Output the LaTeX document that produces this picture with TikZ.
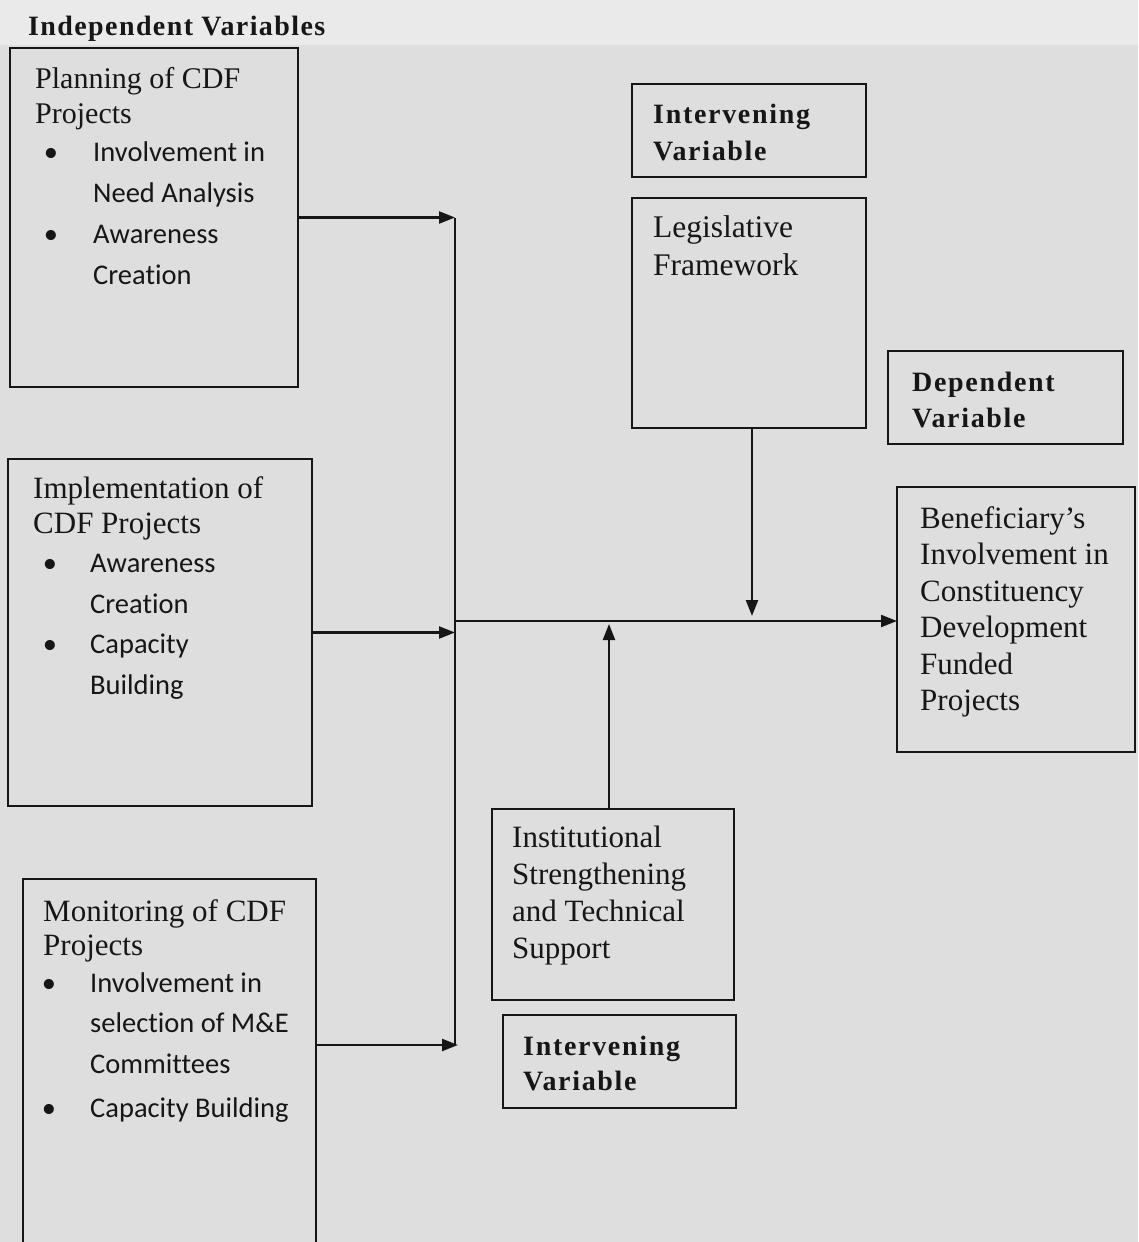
\documentclass[tikz,border=0pt]{standalone}
\usepackage{fontspec}
\setmainfont{Liberation Serif}
\newfontfamily\calib{Carlito}[Ligatures=NoCommon]
\newfontfamily\bsp{Liberation Serif}[LetterSpace=6]
\newfontfamily\tsp{Liberation Serif}[LetterSpace=5]
\usetikzlibrary{arrows.meta}
\definecolor{paper}{RGB}{222,222,222}
\definecolor{paperlight}{RGB}{234,234,234}
\definecolor{ink}{RGB}{22,22,22}
\newcommand{\mylines}[1]{\begin{tabular}[t]{@{}l@{}}#1\end{tabular}}
\begin{document}
\begin{tikzpicture}[x=1pt,y=-1pt,
  box/.style={draw=ink, line width=2.3pt, rectangle, inner sep=0pt, outer sep=0pt, anchor=north west},
  serif/.style={anchor=base west, inner sep=0pt, text=ink},
  sans/.style={anchor=base west, inner sep=0pt, text=ink, font=\calib\fontsize{28.5}{41}\selectfont},
  dot/.style={anchor=base, inner sep=0pt, text=ink, font=\calib\fontsize{28.5}{41}\selectfont},
  boldlab/.style={anchor=base west, inner sep=0pt, text=ink},
  conn/.style={draw=ink, line width=2.3pt},
  arr/.style={draw=ink, line width=2.3pt, -{Triangle[length=16pt,width=12pt]}}
]
\useasboundingbox (0,0) rectangle (1138,1242);
\clip (0,0) rectangle (1138,1242);
\fill[paper] (0,0) rectangle (1138,1242);
\fill[paperlight] (0,0) rectangle (1138,45);

% title
\node[boldlab, font=\tsp\bfseries\fontsize{28}{34}\selectfont] (title) at (28,35) {Independent Variables};

% Planning box
\node[box, minimum width=288pt, minimum height=339pt] (plan) at (10,48) {};
\node[serif, font=\fontsize{30}{35}\selectfont] (planh) at (35,88) {\mylines{Planning of CDF\\Projects}};
\node[dot] (planb1) at (51,161) {•};
\node[sans] (planb1t) at (93,161) {\mylines{Involvement in\\Need Analysis}};
\node[dot] (planb2) at (51,243) {•};
\node[sans] (planb2t) at (93,243) {\mylines{Awareness\\Creation}};

% Implementation box
\node[box, minimum width=304pt, minimum height=347pt] (impl) at (8,459) {};
\node[serif, font=\fontsize{31}{35}\selectfont] (implh) at (33,498) {\mylines{Implementation of\\CDF Projects}};
\node[dot] (implb1) at (50,572) {•};
\node[sans] (implb1t) at (90,572) {\mylines{Awareness\\Creation}};
\node[dot] (implb2) at (50,653) {•};
\node[sans] (implb2t) at (90,653) {\mylines{Capacity\\Building}};

% Monitoring box
\node[box, minimum width=293pt, minimum height=400pt] (mon) at (23,879) {};
\node[serif, font=\fontsize{31}{34}\selectfont] (monh) at (43,921) {\mylines{Monitoring of CDF\\Projects}};
\node[dot] (monb1) at (49,992) {•};
\node[sans, font=\calib\fontsize{28.5}{40.5}\selectfont] (monb1t) at (90,992) {\mylines{Involvement in\\selection of M\&E\\Committees}};
\node[dot] (monb2) at (49,1117) {•};
\node[sans] (monb2t) at (90,1117) {Capacity Building};

% Intervening (top)
\node[box, minimum width=234pt, minimum height=93pt] (int1) at (632,84) {};
\node[boldlab, font=\bsp\bfseries\fontsize{28}{37}\selectfont] (int1t) at (653,123) {\mylines{Intervening\\Variable}};

% Legislative
\node[box, minimum width=234pt, minimum height=230pt] (leg) at (632,198) {};
\node[serif, font=\fontsize{31.5}{38}\selectfont] (legt) at (653,237) {\mylines{Legislative\\Framework}};

% Dependent
\node[box, minimum width=235pt, minimum height=93pt] (dep) at (888,351) {};
\node[boldlab, font=\bsp\bfseries\fontsize{28}{36}\selectfont] (dept) at (912,391) {\mylines{Dependent\\Variable}};

% Beneficiary
\node[box, minimum width=238pt, minimum height=265pt] (ben) at (897,487) {};
\node[serif, font=\fontsize{31}{36.5}\selectfont] (bent) at (920,528) {\mylines{Beneficiary’s\\Involvement in\\Constituency\\Development\\Funded\\Projects}};

% Institutional
\node[box, minimum width=242pt, minimum height=191pt] (inst) at (492,809) {};
\node[serif, font=\fontsize{31}{37}\selectfont] (instt) at (512,847) {\mylines{Institutional\\Strengthening\\and Technical\\Support}};

% Intervening (bottom)
\node[box, minimum width=233pt, minimum height=93pt] (int2) at (503,1015) {};
\node[boldlab, font=\bsp\bfseries\fontsize{28}{35}\selectfont] (int2t) at (523,1055) {\mylines{Intervening\\Variable}};

% connectors
\coordinate (jtop) at (455,218);
\coordinate (jmid) at (455,621);
\coordinate (jbot) at (455,1045);
\draw[conn] (jtop) -- (jbot);
\draw[arr] (plan.east) -- (plan.east -| jtop);
\draw[arr] (impl.east) -- (impl.east -| jtop);
\draw[arr] (mon.east |- jbot) -- ([xshift=3pt]jbot);
\draw[arr] (jmid) -- (jmid -| ben.west);
\draw[arr] ([xshift=3pt]leg.south) -- ([xshift=3pt,yshift=5pt]leg.south |- jmid);
\draw[arr] ([xshift=-4pt]inst.north) -- ([xshift=-4pt,yshift=-3pt]inst.north |- jmid);
\end{tikzpicture}
\end{document}
